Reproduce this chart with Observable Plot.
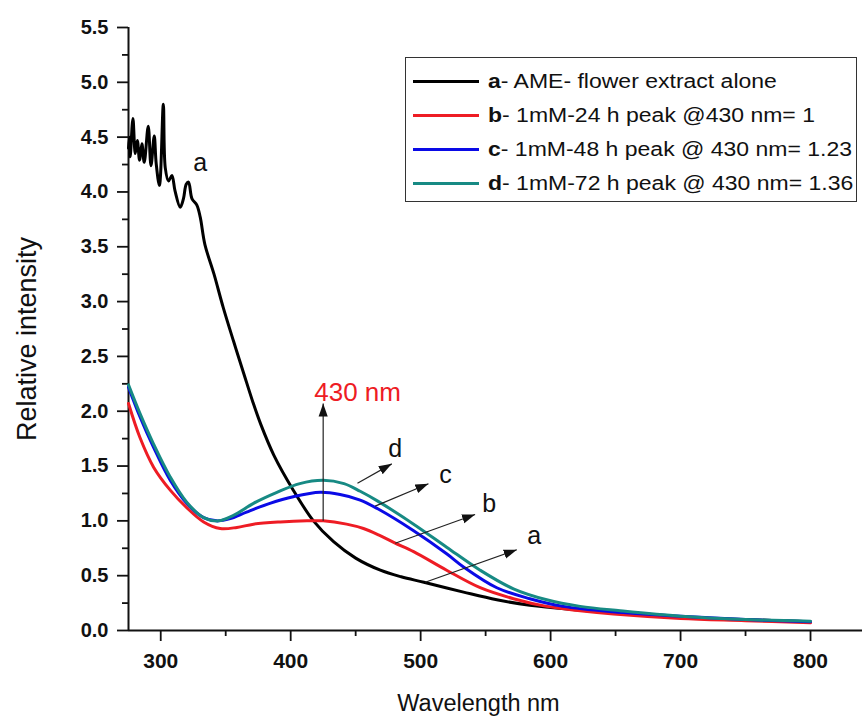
<!DOCTYPE html>
<html><head><meta charset="utf-8">
<script src="https://cdn.jsdelivr.net/npm/d3@7"></script>
<script src="https://cdn.jsdelivr.net/npm/@observablehq/plot@0.6"></script>
<style>
body{margin:0;background:#fff;}
#wrap{position:relative;width:866px;height:719px;font-family:"Liberation Sans",Arial,sans-serif;}
#legend{position:absolute;left:405px;top:57px;width:452px;height:145px;border:1.4px solid #333;box-sizing:border-box;background:#fff;}
.sw{position:absolute;left:7px;width:66px;height:3px;}
.lt{position:absolute;left:82px;white-space:nowrap;font-size:20px;line-height:20px;height:20px;transform:scaleX(1.15) scaleY(1.05);transform-origin:left center;color:#111;}
</style></head>
<body><div id="wrap"></div>
<script>
// ---- data ----
const seriesKeys = ["a", "b", "c", "d"];
const seriesText = ["AME- flower extract alone", "1mM-24 h peak @430 nm= 1", "1mM-48 h peak @ 430 nm= 1.23", "1mM-72 h peak @ 430 nm= 1.36"];
const seriesColors = ["#000000", "#ee1c24", "#0a0ae6", "#178a84"];

const wlA = [275.2,276,276.5,278.6,280.4,282,283.7,285.5,287.3,290.4,292.5,295,296.5,299,302,303.5,306,308.6,311,315,317.5,319.6,321.4,324,327.8,330.4,334,341,348,356,364,371,377,387,402,417.5,433,450,469,485,502.5,533,558.6,584,600,650,700,750,800];
const intA = [4.40,4.50,4.32,4.67,4.35,4.47,4.29,4.44,4.27,4.60,4.24,4.51,4.26,4.06,4.80,4.22,4.10,4.15,4.01,3.86,3.94,4.07,4.09,3.94,3.88,3.77,3.52,3.25,2.95,2.64,2.34,2.08,1.88,1.60,1.28,1.00,0.81,0.66,0.55,0.49,0.44,0.35,0.28,0.23,0.21,0.16,0.12,0.10,0.08];
const wlB = [275.2,284,294.5,307.3,320,333,345.8,358.6,371.4,392,412.5,425,443,456,468,480,494.6,520,545.8,571.4,597,622.7,648.4,700,750,800];
const intB = [2.07,1.76,1.49,1.28,1.12,0.99,0.93,0.94,0.97,0.99,1.00,1.00,0.97,0.93,0.87,0.80,0.72,0.55,0.39,0.29,0.22,0.18,0.15,0.11,0.09,0.07];
const wlC = [275.2,284,294.5,307.3,320,333,343,353.5,366,384,402,422.7,438,453.5,467,494.6,520,533,558.6,584,609.8,648,700,750,800];
const intC = [2.22,1.95,1.67,1.37,1.16,1.03,1.00,1.02,1.08,1.16,1.22,1.26,1.24,1.19,1.11,0.91,0.70,0.58,0.39,0.29,0.22,0.17,0.13,0.10,0.08];
const wlD = [275.2,284,294.5,307.3,320,333,344.5,356,371.4,389.4,407,425,441,453.5,467,494.6,520,545.8,571.4,597,622.7,653.5,700,750,800];
const intD = [2.24,1.98,1.70,1.40,1.17,1.03,1.00,1.05,1.16,1.26,1.34,1.37,1.34,1.27,1.18,0.97,0.76,0.55,0.38,0.28,0.22,0.18,0.13,0.10,0.085];

const xDomain = [275.2, 840];
const yDomain = [0, 5.5];
const xTicks = [300, 400, 500, 600, 700, 800];
const xMinor = [350, 450, 550, 650, 750];
const yTicks = [0, 0.5, 1, 1.5, 2, 2.5, 3, 3.5, 4, 4.5, 5, 5.5];
const yMinor = [0.25, 0.75, 1.25, 1.75, 2.25, 2.75, 3.25, 3.75, 4.25, 4.75, 5.25];

// annotation arrows and letters
const arrowX1 = [425, 451.4, 465, 480.4, 503.5];
const arrowY1 = [1.0, 1.343, 1.134, 0.796, 0.44];
const arrowX2 = [425, 477.8, 506, 541.9, 574];
const arrowY2 = [2.07, 1.52, 1.338, 1.058, 0.736];
const letterText = ["a", "d", "c", "b", "a"];
const letterX = [330.4, 480.4, 519.2, 552.7, 587.3];
const letterY = [4.26, 1.66, 1.42, 1.158, 0.86];
const peakLabel = "430 nm";
const peakLabelX = 451.5;
const peakLabelY = 2.17;

// ---- build ----
const wls = [wlA, wlB, wlC, wlD];
const ints = [intA, intB, intC, intD];
const rows = seriesKeys.flatMap((k, i) => wls[i].map((w, j) => ({key: k, w, v: ints[i][j]})));
const arrows = arrowX1.map((x, i) => ({x1: x, y1: arrowY1[i], x2: arrowX2[i], y2: arrowY2[i]}));
const letters = letterText.map((t, i) => ({t, x: letterX[i], y: letterY[i]}));

const chart = Plot.plot({
  width: 866, height: 719,
  marginLeft: 128, marginRight: 4, marginTop: 27, marginBottom: 89,
  x: {domain: xDomain},
  y: {domain: yDomain},
  color: {domain: seriesKeys, range: seriesColors},
  style: {fontFamily: "'Liberation Sans', Arial, sans-serif", fontSize: "20px", fontWeight: "bold", color: "#111", background: "transparent", overflow: "visible"},
  marks: [
    Plot.axisX(xTicks, {tickSize: 11, tickPadding: 12, strokeWidth: 1.8, label: null, fontSize: 21}),
    Plot.axisX(xMinor, {tickSize: 6, tickFormat: () => "", strokeWidth: 1.8, label: null}),
    Plot.axisY(yTicks, {tickSize: 11, tickPadding: 9, tickFormat: d3.format(".1f"), strokeWidth: 1.8, label: null}),
    Plot.axisY(yMinor, {tickSize: 6, tickFormat: () => "", strokeWidth: 1.8, label: null}),
    Plot.ruleY([yDomain[0]], {strokeWidth: 2, stroke: "#111"}),
    Plot.ruleX([xDomain[0]], {y1: yDomain[0], y2: yDomain[1], strokeWidth: 2, stroke: "#111"}),
    Plot.line(rows, {x: "w", y: "v", z: "key", stroke: "key", strokeWidth: 3, curve: "catmull-rom"}),
    Plot.link(arrows, {x1: "x1", y1: "y1", x2: "x2", y2: "y2", stroke: "#222", strokeWidth: 1.2, markerEnd: "arrow"}),
    Plot.text(letters, {x: "x", y: "y", text: "t", fontSize: 25, fontWeight: "normal", fill: "#111", textAnchor: "middle", lineAnchor: "middle"}),
    Plot.text([peakLabel], {x: peakLabelX, y: peakLabelY, text: d => d, fontSize: 26, fontWeight: "normal", fill: "#ee1c24", textAnchor: "middle", lineAnchor: "middle"}),
    Plot.text(["Relative intensity"], {frameAnchor: "left", text: d => d, rotate: -90, dx: -101, dy: 10, fontSize: 27, fontWeight: "normal", textAnchor: "middle", lineAnchor: "middle", fill: "#111"}),
    Plot.text(["Wavelength nm"], {frameAnchor: "bottom", text: d => d, dx: -17, dy: 73, fontSize: 23.5, fontWeight: "normal", textAnchor: "middle", lineAnchor: "middle", fill: "#111"})
  ]
});

// filled arrowheads
chart.querySelectorAll("marker").forEach(m => {
  m.setAttribute("viewBox", "-10 -4 11 8");
  m.setAttribute("markerWidth", 12);
  m.setAttribute("markerHeight", 8.7);
  m.setAttribute("fill", "#111");
  m.setAttribute("stroke", "none");
  const p = m.querySelector("path");
  if (p) p.setAttribute("d", "M-10,-3.5L0,0L-10,3.5Z");
});

const wrap = document.getElementById("wrap");
wrap.appendChild(chart);

// legend
const legend = document.createElement("div");
legend.id = "legend";
seriesKeys.forEach((k, i) => {
  const cy = 23 + i * 34;
  const sw = document.createElement("div");
  sw.className = "sw";
  sw.style.top = (cy - 1.5) + "px";
  sw.style.background = seriesColors[i];
  legend.appendChild(sw);
  const lt = document.createElement("div");
  lt.className = "lt";
  lt.style.top = (cy - 10) + "px";
  lt.innerHTML = "<b>" + k + "</b>- " + seriesText[i];
  legend.appendChild(lt);
});
wrap.appendChild(legend);
</script>
</body></html>
